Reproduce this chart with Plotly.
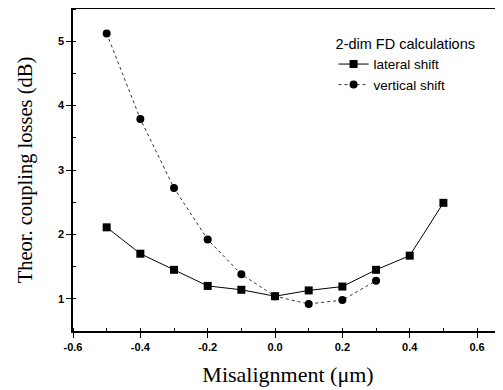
import plotly.graph_objects as go

x_lateral = [-0.5, -0.4, -0.3, -0.2, -0.1, 0.0, 0.1, 0.2, 0.3, 0.4, 0.5]
y_lateral = [2.11, 1.70, 1.45, 1.20, 1.14, 1.04, 1.13, 1.19, 1.45, 1.67, 2.49]
x_vertical = [-0.5, -0.4, -0.3, -0.2, -0.1, 0.0, 0.1, 0.2, 0.3]
y_vertical = [5.12, 3.79, 2.72, 1.92, 1.38, 1.04, 0.92, 0.98, 1.28]
x_ticks = [-0.6, -0.4, -0.2, 0.0, 0.2, 0.4, 0.6]
x_ticklabels = ["-0.6", "-0.4", "-0.2", "0.0", "0.2", "0.4", "0.6"]
y_ticks = [1, 2, 3, 4, 5]
y_ticklabels = ["1", "2", "3", "4", "5"]

fig = go.Figure()
fig.add_trace(go.Scatter(
    x=x_lateral, y=y_lateral, name="lateral shift", mode="lines+markers",
    line=dict(color="black", width=1),
    marker=dict(symbol="square", size=8, color="black"),
))
fig.add_trace(go.Scatter(
    x=x_vertical, y=y_vertical, name="vertical shift", mode="lines+markers",
    line=dict(color="black", width=0.8, dash="dot"),
    marker=dict(symbol="circle", size=8, color="black"),
))

bold = lambda s: "<b>" + s + "</b>"

fig.update_layout(
    width=495, height=382,
    margin=dict(l=65, r=0, t=1, b=59),
    paper_bgcolor="white", plot_bgcolor="white",
    showlegend=True,
    legend=dict(
        title=dict(text="2-dim FD calculations", font=dict(family="Arial, Liberation Sans", size=14.5, color="black")),
        font=dict(family="Arial, Liberation Sans", size=13.5, color="black"),
        x=0.606, y=0.935, xanchor="left", yanchor="top",
        bgcolor="rgba(0,0,0,0)", tracegroupgap=0, itemwidth=30,
    ),
    xaxis=dict(
        range=[-0.6, 0.677], tickmode="array", tickvals=x_ticks, ticktext=[bold(t) for t in x_ticklabels],
        showgrid=False, zeroline=False, showline=True, linecolor="black", linewidth=1.5,
        mirror=True, ticks="outside", ticklen=5, tickwidth=1.2, tickcolor="black",
        minor=dict(dtick=0.1, ticks="inside", ticklen=3, tickcolor="black"),
        tickfont=dict(family="Arial, Liberation Sans", size=11, color="black"),
        title=dict(text="Misalignment (\u03bcm)", font=dict(family="Times New Roman, Liberation Serif", size=22, color="black"), standoff=15),
    ),
    yaxis=dict(
        range=[0.5, 5.5], tickmode="array", tickvals=y_ticks, ticktext=[bold(t) for t in y_ticklabels],
        showgrid=False, zeroline=False, showline=True, linecolor="black", linewidth=1.5,
        ticks="outside", ticklen=5, tickwidth=1.2, tickcolor="black",
        minor=dict(dtick=0.5, ticks="inside", ticklen=3, tickcolor="black"),
        tickfont=dict(family="Arial, Liberation Sans", size=11, color="black"),
        title=dict(text="Theor. coupling losses (dB)", font=dict(family="Times New Roman, Liberation Serif", size=20.5, color="black"), standoff=20),
    ),
)

fig.write_html("out.html")
